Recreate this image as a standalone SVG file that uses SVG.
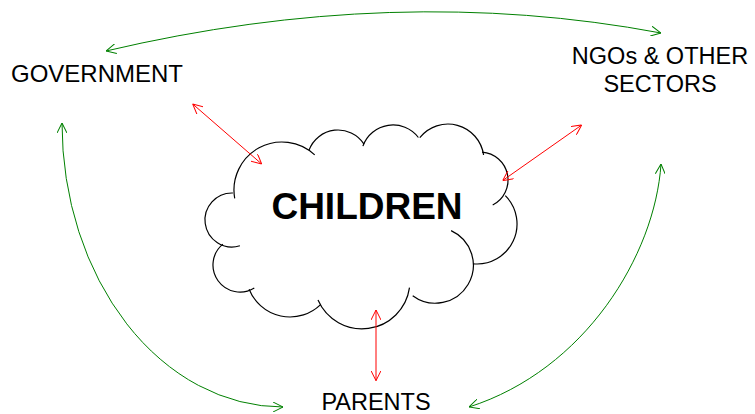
<svg xmlns="http://www.w3.org/2000/svg" width="755" height="414" viewBox="0 0 755 414">
<defs>
<style>
.lbl{font-family:"Liberation Sans",Arial,sans-serif;font-size:23.5px;fill:#000}
.title{font-family:"Liberation Sans",Arial,sans-serif;font-size:37px;font-weight:bold;fill:#000}
.lobe{fill:none;stroke:#000;stroke-width:1.2}
.red{fill:none;stroke:#ff0000;stroke-width:1;marker-start:url(#ahR);marker-end:url(#ahR)}
.green{fill:none;stroke:#008000;stroke-width:1;marker-start:url(#ahG);marker-end:url(#ahG)}
</style>
<marker id="ahR" viewBox="0 0 10 10" refX="10" refY="5" markerWidth="10" markerHeight="10" markerUnits="userSpaceOnUse" orient="auto-start-reverse">
<path d="M0,0 L10,5 L0,10" fill="none" stroke="#ff0000" stroke-width="1"/>
</marker>
<marker id="ahG" viewBox="0 0 10 10" refX="10" refY="5" markerWidth="10" markerHeight="10" markerUnits="userSpaceOnUse" orient="auto-start-reverse">
<path d="M0,0 L10,5 L0,10" fill="none" stroke="#008000" stroke-width="1"/>
</marker>
</defs>
<rect width="755" height="414" fill="#fff"/>
<g id="children">
<path class="lobe" d="M239.9,245.8 A27,27 0 1 1 232.9,193"/>
<path class="lobe" d="M234.7,198.3 A48,48 0 0 1 314.7,154.9"/>
<path class="lobe" d="M308.9,150.4 A31,31 0 0 1 364,144.1"/>
<path class="lobe" d="M362.9,146.1 A32,32 0 0 1 418.4,137.5"/>
<path class="lobe" d="M419.8,137.6 A36,36 0 0 1 483.6,155"/>
<path class="lobe" d="M482,152.1 A28,28 0 0 1 492.7,205"/>
<path class="lobe" d="M505.3,195.7 A40,40 0 0 1 473.2,263.8"/>
<path class="lobe" d="M451.1,230.6 A38,38 0 1 1 412.7,295.7"/>
<path class="lobe" d="M409.5,287.7 A48,48 0 0 1 318,300.1"/>
<path class="lobe" d="M320.6,304.6 A44,44 0 0 1 249.1,289.2"/>
<path class="lobe" d="M254.3,287.9 A27,27 0 0 1 222.9,244.1"/>
<text class="title" x="367" y="219" text-anchor="middle">CHILDREN</text>
</g>
<g id="government">
<text class="lbl" x="11" y="82" style="font-size:24px">GOVERNMENT</text>
</g>
<g id="ngos">
<text class="lbl" x="660" y="64" text-anchor="middle">NGOs &amp; OTHER</text>
<text class="lbl" x="660" y="92" text-anchor="middle">SECTORS</text>
</g>
<g id="parents">
<text class="lbl" x="376" y="410" text-anchor="middle">PARENTS</text>
</g>
<g id="connectors">
<path class="red" d="M192.7,104 L261.7,164"/>
<path class="red" d="M581.7,125 L502.7,180.5"/>
<path class="red" d="M376,310 L376,380.7"/>
<path class="green" d="M106,51 Q395,-17 661,33"/>
<path class="green" d="M62,123 A221,284 0 0 0 283,407"/>
<path class="green" d="M661,164 C655,255 585,370 469,407"/>
</g>
</svg>
